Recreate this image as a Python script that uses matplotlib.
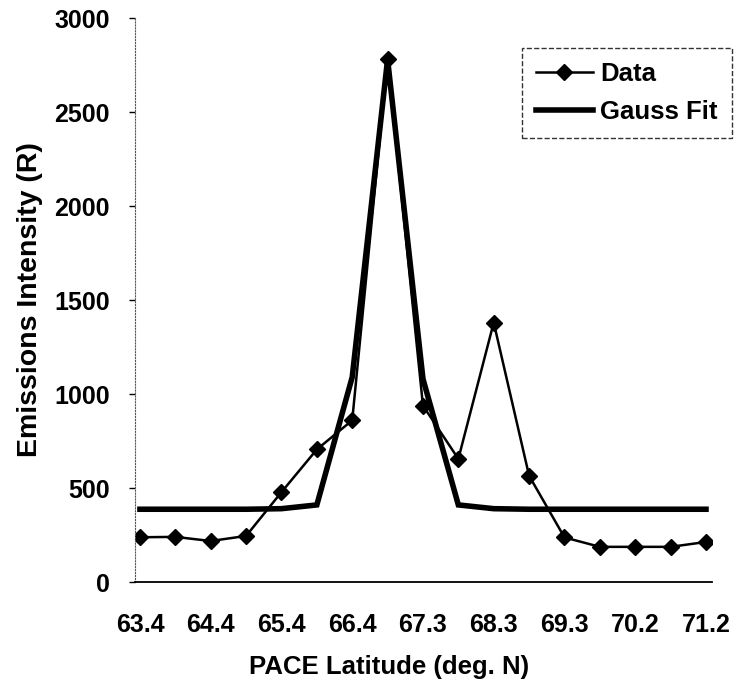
import matplotlib.pyplot as plt

plt.rcParams['font.family'] = ['Liberation Sans', 'DejaVu Sans']
plt.rcParams['font.weight'] = 'bold'

latitudes = ['63.4', '63.9', '64.4', '64.9', '65.4', '65.9', '66.4', '66.9', '67.3',
             '67.8', '68.3', '68.8', '69.3', '69.8', '70.2', '70.7', '71.2']
data_vals = [238, 240, 218, 245, 478, 705, 860, 2780, 938, 655, 1380, 565, 237, 187, 187, 187, 213]
gauss_vals = [387, 387, 387, 387, 390, 410, 1090, 2780, 1080, 410, 390, 387, 387, 387, 387, 387, 387]

x = list(range(len(latitudes)))

fig = plt.figure(figsize=(7.38, 6.88), dpi=100)
ax = fig.add_axes([135/738, 1-582/688, 577/738, 564/688])

ax.plot(x, data_vals, color='black', lw=1.8, marker='D', markersize=8.5, label='Data')
ax.plot(x, gauss_vals, color='black', lw=4.0, solid_joinstyle='miter', label='Gauss Fit')

ax.set_xlim(-0.14, 16.17)
ax.set_ylim(0, 3000)
ax.set_yticks(range(0, 3001, 500))
ax.set_xticks(x[::2])
ax.set_xticklabels(latitudes[::2])
ax.tick_params(axis='y', direction='out', length=4, width=1, labelsize=18, pad=14)
ax.tick_params(axis='x', length=0, labelsize=18, pad=22)

for s in ['top', 'right']:
    ax.spines[s].set_visible(False)
ax.spines['left'].set_linestyle(':')
ax.spines['left'].set_color('#555555')
ax.spines['bottom'].set_linewidth(1.3)

ax.set_xlabel('PACE Latitude (deg. N)', fontsize=18.5, fontweight='bold')
ax.xaxis.set_label_coords(0.44, -0.13)
ax.set_ylabel('Emissions Intensity (R)', fontsize=20.5, fontweight='bold', labelpad=8)

leg = ax.legend(loc='upper right', bbox_to_anchor=(732/738, 1-48/688),
                bbox_transform=fig.transFigure, fontsize=18.5, frameon=True,
                fancybox=False, handlelength=2.2, borderpad=0.55, labelspacing=0.55,
                handletextpad=0.3, borderaxespad=0)
leg.get_frame().set_edgecolor('black')
leg.get_frame().set_linestyle('--')
leg.get_frame().set_linewidth(1.0)

fig.savefig('out.png', dpi=100)
